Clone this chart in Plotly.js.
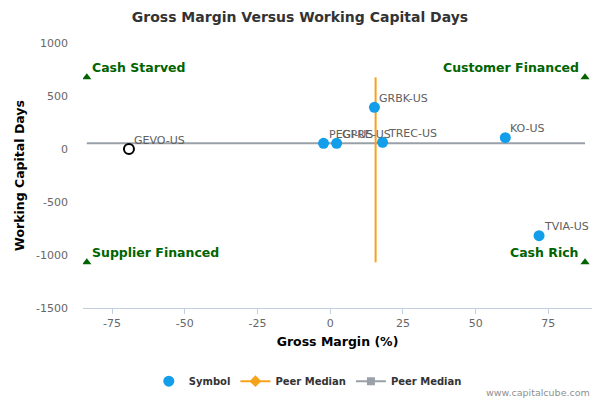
<!DOCTYPE html>
<html>
<head>
<meta charset="utf-8">
<script src="https://cdn.plot.ly/plotly-3.0.1.min.js"></script>
<style>
  body { margin: 0; background: #fff; }
  #chart { width: 600px; height: 400px; }
</style>
</head>
<body>
<div id="chart"></div>
<script>
// peers
let symbols = ['PEGI-US', 'GPRE-US', 'GRBK-US', 'TREC-US', 'KO-US', 'TVIA-US'];
let grossMargin = [-2.3, 2.2, 15.2, 18.0, 60.2, 71.8];
let wcDays = [54, 54, 393, 63, 107, -818];

// the company itself
let companySymbol = ['GEVO-US'];
let companyMargin = [-69.2];
let companyDays = [0];

// peer medians
let medianMargin = 15.6;
let medianDays = 54;

// quadrant corners
let quadLabels = ['Cash Starved', 'Customer Financed', 'Supplier Financed', 'Cash Rich'];
let quadMargin = [-83.7, 87.6, -83.7, 87.6];
let quadDays = [676, 676, -1069, -1069];

// axis ticks (plain hyphen minus like the original)
let yTicks = [1000, 500, 0, -500, -1000, -1500];
let yTickText = ['1000', '500', '0', '-500', '-1000', '-1500'];
let xTicks = [-75, -50, -25, 0, 25, 50, 75];
let xTickText = ['-75', '-50', '-25', '0', '25', '50', '75'];

let font = 'DejaVu Sans, sans-serif';

let peerTrace = {
    x: grossMargin,
    y: wcDays,
    text: symbols,
    mode: 'markers',
    marker: {color: '#139eea', size: 11},
    showlegend: false
};

let companyTrace = {
    x: companyMargin,
    y: companyDays,
    text: companySymbol,
    mode: 'markers',
    marker: {color: 'rgba(0,0,0,0)', size: 10, line: {color: '#000', width: 2}},
    showlegend: false
};

let hLine = {
    x: [quadMargin[0], quadMargin[1]],
    y: [medianDays, medianDays],
    mode: 'lines',
    line: {color: '#9aa0a8', width: 2},
    showlegend: false
};

let vLine = {
    x: [medianMargin, medianMargin],
    y: [quadDays[0], quadDays[2]],
    mode: 'lines',
    line: {color: '#f7a21b', width: 2},
    showlegend: false
};

let quadTrace = {
    x: quadMargin,
    y: quadDays,
    mode: 'markers',
    marker: {symbol: 'triangle-up', color: '#006400', size: 8},
    showlegend: false
};

// legend only entries
let legSymbol = {
    x: [null], y: [null], name: 'Symbol', mode: 'markers',
    marker: {color: '#139eea', size: 11}
};
let legPeerX = {
    x: [null], y: [null], name: 'Peer Median', mode: 'lines+markers',
    line: {color: '#f7a21b', width: 2},
    marker: {symbol: 'diamond', color: '#f7a21b', size: 9}
};
let legPeerY = {
    x: [null], y: [null], name: 'Peer Median', mode: 'lines+markers',
    line: {color: '#9aa0a8', width: 2},
    marker: {symbol: 'square', color: '#9aa0a8', size: 8}
};

let data = [hLine, vLine, quadTrace, peerTrace, companyTrace, legSymbol, legPeerX, legPeerY];

// point labels, up and right of each point
let annotations = [];
let allX = grossMargin.concat(companyMargin);
let allY = wcDays.concat(companyDays);
let allText = symbols.concat(companySymbol);
for (let i = 0; i < allText.length; i++) {
    annotations.push({
        x: allX[i], y: allY[i], text: allText[i],
        xanchor: 'left', yanchor: 'middle', xshift: 3, yshift: 9,
        showarrow: false,
        font: {family: font, size: 11, color: '#606060'}
    });
}
// quadrant names, right side ones are right aligned
for (let i = 0; i < quadLabels.length; i++) {
    let left = i % 2 === 0;
    annotations.push({
        x: quadMargin[i], y: quadDays[i], text: quadLabels[i],
        xanchor: left ? 'left' : 'right', yanchor: 'middle',
        xshift: left ? 3 : -4, yshift: 10,
        showarrow: false,
        font: {family: font, size: 12.5, color: '#006400', weight: 'bold'}
    });
}
annotations.push({
    text: 'www.capitalcube.com',
    xref: 'paper', yref: 'paper',
    x: 1, y: -0.32, xanchor: 'right', yanchor: 'middle',
    showarrow: false,
    font: {family: font, size: 9.5, color: '#909090'}
});

let layout = {
    width: 600,
    height: 400,
    margin: {l: 83, r: 8, t: 43, b: 92},
    paper_bgcolor: '#fff',
    plot_bgcolor: '#fff',
    font: {family: font, size: 11, color: '#666'},
    title: {
        text: 'Gross Margin Versus Working Capital Days',
        x: 0.5, xref: 'container', xanchor: 'center', y: 0.957, yanchor: 'middle',
        font: {family: font, size: 14, color: '#333', weight: 'bold'}
    },
    xaxis: {
        range: [-85, 90],
        tickvals: xTicks,
        ticktext: xTickText,
        showgrid: false,
        zeroline: false,
        showline: true,
        linecolor: '#c0d0e0',
        linewidth: 1,
        ticks: 'outside',
        ticklen: 5,
        tickcolor: '#c0d0e0',
        automargin: false,
        tickfont: {family: font, size: 11, color: '#666'},
        title: {text: 'Gross Margin (%)', standoff: 8,
                font: {family: font, size: 12.5, color: '#000', weight: 'bold'}}
    },
    yaxis: {
        range: [-1500, 1000],
        tickvals: yTicks,
        ticktext: yTickText,
        showgrid: false,
        zeroline: false,
        showline: false,
        ticks: '',
        ticklabelstandoff: 14,
        automargin: 'left',
        tickfont: {family: font, size: 11, color: '#666'},
        title: {text: 'Working Capital Days', standoff: 8,
                font: {family: font, size: 12.5, color: '#000', weight: 'bold'}}
    },
    legend: {
        orientation: 'h',
        xref: 'container', yref: 'container',
        x: 0.513, xanchor: 'center',
        y: 0.047, yanchor: 'middle',
        font: {family: font, size: 10, color: '#333', weight: 'bold'}
    },
    annotations: annotations
};

Plotly.newPlot('chart', data, layout, {displayModeBar: false, staticPlot: true});
</script>
</body>
</html>
